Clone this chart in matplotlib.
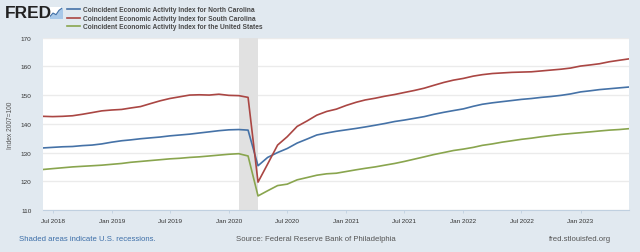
import numpy as np
import pandas as pd
import matplotlib
matplotlib.use('Agg')
import matplotlib.pyplot as plt
import matplotlib.dates as mdates

plt.rcParams['font.family'] = ['Liberation Sans', 'DejaVu Sans']

# monthly data, Jun 2018 - Jun 2023
months = pd.date_range('2018-06-01', '2023-06-01', freq='MS')

nc = [131.6, 131.8, 132.0, 132.1, 132.4, 132.6, 133.0, 133.6, 134.1, 134.4,
      134.8, 135.1, 135.4, 135.8, 136.1, 136.4, 136.8, 137.2, 137.6, 137.9,
      138.0, 137.8, 125.4, 128.3, 130.0, 131.4, 133.3, 134.7, 136.1, 136.8,
      137.4, 137.9, 138.4, 138.9, 139.5, 140.1, 140.8, 141.3, 141.9, 142.5,
      143.3, 144.0, 144.6, 145.2, 146.1, 146.8, 147.3, 147.7, 148.1, 148.5,
      148.8, 149.2, 149.5, 149.9, 150.4, 151.1, 151.5, 151.9, 152.2, 152.5,
      152.8]

sc = [142.6, 142.5, 142.6, 142.8, 143.3, 143.9, 144.5, 144.8, 145.0, 145.5,
      146.0, 147.0, 148.0, 148.8, 149.4, 150.0, 150.1, 150.0, 150.3, 149.9,
      149.8, 149.2, 119.7, 126.0, 132.6, 135.5, 139.1, 141.0, 143.0, 144.3,
      145.1, 146.4, 147.5, 148.3, 148.9, 149.6, 150.2, 150.9, 151.6, 152.4,
      153.4, 154.4, 155.2, 155.8, 156.6, 157.1, 157.5, 157.7, 157.9, 158.0,
      158.1, 158.4, 158.7, 159.0, 159.4, 160.1, 160.5, 160.9, 161.6, 162.1,
      162.6]

us = [124.1, 124.4, 124.7, 125.0, 125.2, 125.4, 125.6, 125.9, 126.2, 126.6,
      126.9, 127.2, 127.5, 127.8, 128.0, 128.3, 128.5, 128.8, 129.1, 129.4,
      129.6, 128.8, 114.9, 116.7, 118.5, 119.0, 120.5, 121.3, 122.1, 122.6,
      122.8, 123.4, 124.0, 124.5, 125.0, 125.6, 126.2, 126.9, 127.7, 128.5,
      129.3, 130.0, 130.7, 131.2, 131.8, 132.5, 133.0, 133.6, 134.1, 134.6,
      135.0, 135.5, 135.9, 136.3, 136.6, 136.9, 137.2, 137.5, 137.8, 138.0,
      138.3]

labels = ['Coincident Economic Activity Index for North Carolina',
          'Coincident Economic Activity Index for South Carolina',
          'Coincident Economic Activity Index for the United States']
colors = ['#4572a7', '#aa4643', '#89a54e']

recession = ('2020-02-01', '2020-04-01')
yticks = [110, 120, 130, 140, 150, 160, 170]

# =============================================================================
bg = '#e1e9f0'
fig = plt.figure(figsize=(6.4, 2.53), dpi=100, facecolor=bg)
ax = fig.add_axes([43/640, 1 - 211/253, (629-43)/640, (211-38.6)/253])
ax.set_facecolor('white')

ax.axvspan(pd.Timestamp(recession[0]), pd.Timestamp(recession[1]),
           color='#e1e1e1', lw=0, zorder=1)

for series, lab, c in zip([nc, sc, us], labels, colors):
    ax.plot(months, series, color=c, lw=1.2, label=lab, zorder=3)

ax.set_xlim(months[0], months[-1])
ax.set_ylim(110, 170)
ax.set_yticks(yticks)
ax.set_yticklabels([str(t) for t in yticks], fontsize=4.6, color='#333333')
ax.yaxis.grid(True, color='#ebebeb', lw=1)
ax.set_axisbelow(True)

ax.xaxis.set_major_locator(mdates.MonthLocator(bymonth=[1, 7]))
ax.xaxis.set_major_formatter(mdates.DateFormatter('%b %Y'))
ax.tick_params(axis='x', labelsize=4.6, labelcolor='#333333', length=2.5,
               width=0.6, pad=3, color='#c0d0e0')
ax.tick_params(axis='y', length=0, pad=12)
for t in ax.get_yticklabels():
    t.set_horizontalalignment('center')

for s in ['top', 'right', 'left']:
    ax.spines[s].set_visible(False)
ax.spines['bottom'].set_color('#c0d0e0')
ax.spines['bottom'].set_linewidth(0.8)

fig.text(11/640, 1 - 125/253, 'Index 2007=100', rotation=90, fontsize=4.8,
         color='#555555', ha='center', va='center')

# header: FRED logo + legend
fig.text(5/640, 1 - 13/253, 'FRED', fontsize=12.5, fontweight='bold',
         color='#222222', ha='left', va='center')
icon = fig.add_axes([50/640, 1 - 19/253, 12/640, 11/253])
icon.set_facecolor('white')
icon.plot([0, 1, 2, 3, 4], [0.3, 0.9, 0.6, 1.4, 1.8], color='#4572a7', lw=0.8)
icon.fill_between([0, 1, 2, 3, 4], [0.3, 0.9, 0.6, 1.4, 1.8], color='#a8c8e8')
icon.set_xlim(0, 4)
icon.set_ylim(0, 2)
icon.set_xticks([])
icon.set_yticks([])
for s in icon.spines.values():
    s.set_visible(False)

fig.legend(loc='upper left', bbox_to_anchor=(67/640, 1 - 7.5/253),
           frameon=False, prop={'size': 4.8, 'weight': 'bold'},
           handlelength=2.0, handletextpad=0.45,
           labelspacing=0.2, borderaxespad=0, borderpad=0,
           labelcolor='#4a4a4a')

# footer
fig.text(19/640, 1 - 239.5/253, 'Shaded areas indicate U.S. recessions.',
         fontsize=5.6, color='#3c6ea8', ha='left', va='center')
fig.text(236/640, 1 - 239.5/253, 'Source: Federal Reserve Bank of Philadelphia',
         fontsize=5.6, color='#555555', ha='left', va='center')
fig.text(611/640, 1 - 239.5/253, 'fred.stlouisfed.org',
         fontsize=5.6, color='#555555', ha='right', va='center')

fig.savefig('out.png', dpi=100, facecolor=bg)
